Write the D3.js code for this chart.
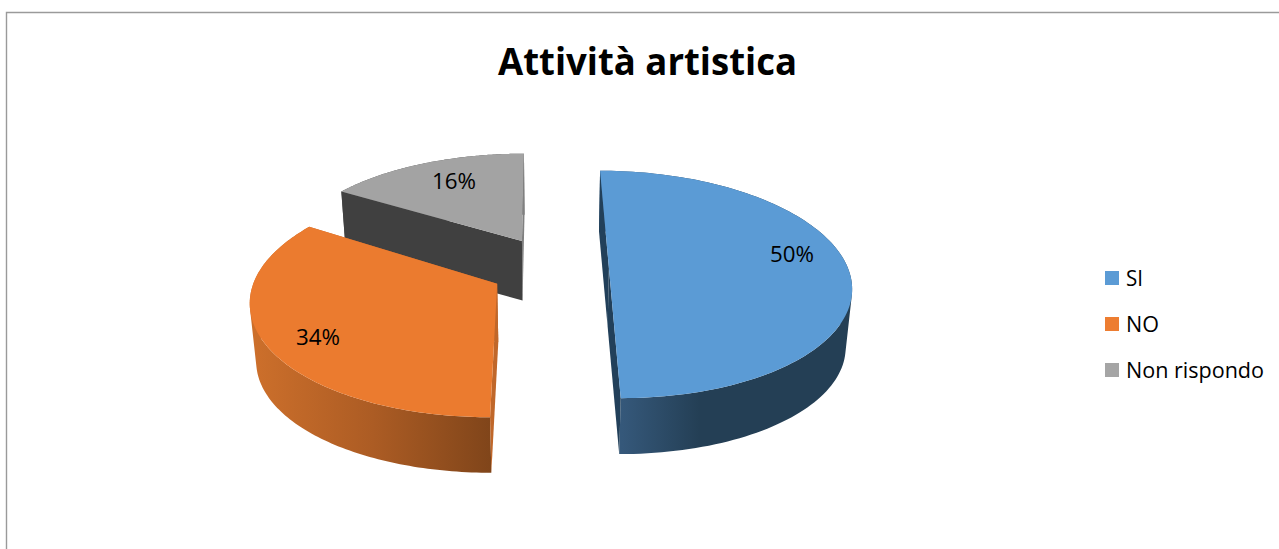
<!DOCTYPE html>
<html>
<head>
<meta charset="utf-8">
<script src="https://cdn.jsdelivr.net/npm/d3@7/dist/d3.min.js"></script>
<style>
html,body{margin:0;padding:0;background:#fff;overflow:hidden}
svg{display:block}
text{font-family:"Open Sans","Noto Sans",sans-serif;fill:#000}
</style>
</head>
<body>
<svg id="c" width="1279" height="549"></svg>
<script>
const title = "Attività artistica";
const categories = ["SI", "NO", "Non rispondo"];
const values = [50, 34, 16];
const topColors = ["#5B9BD5", "#EB7B2F", "#A3A3A3"];
const legendColors = ["#5B9BD5", "#ED7D31", "#A5A5A5"];

// layout of the perspective projection of the exploded pie
const W = 1279, H = 549;
const vanish = {x: 539, y: -502};          // vanishing point of the pie plane
const t0 = 770, depthStep = 0.000185;      // perspective foreshortening
const radiusX = 239, originU = 0.0452;
const explodeU = 0.2473, explodeV = 0.29;
const rimScaleV = [1.015, 1, 0.97];
const drop = {x: 550, y: 3000, f: 0.0215}; // extrusion: homothety toward this point
const labelAt = [[792, 254], [318, 337], [454, 181]];
const labelFmt = d3.format(".0%");

const svg = d3.select("#c");
const defs = svg.append("defs");

function project(u, v) {
  const t = 1 / (1 / t0 - depthStep * v);
  return [vanish.x + radiusX * (u + originU) * t / t0, vanish.y + t];
}
const lower = p => [p[0] + (drop.x - p[0]) * drop.f, p[1] + (drop.y - p[1]) * drop.f];
const path = d3.line();

function gradient(id, x1, x2, stops) {
  const g = defs.append("linearGradient").attr("id", id)
    .attr("gradientUnits", "userSpaceOnUse")
    .attr("x1", x1).attr("x2", x2).attr("y1", 0).attr("y2", 0);
  stops.forEach(s => g.append("stop").attr("offset", s[0]).attr("stop-color", s[1]));
}
gradient("wall0", 622, 850, [[0, "#35587A"], [0.34, "#243F55"], [1, "#243F55"]]);
gradient("wall1", 255, 491, [[0, "#CC6F2B"], [0.5, "#AC5C24"], [1, "#80451A"]]);
gradient("wall2", 250, 530, [[0, "#555555"], [1, "#555555"]]);

const firstWall = ["#22405A", "#C0672A", "#404040"];
const lastWall = ["#22405A", "#C0672A", "#808080"];
const pie = d3.pie().sort(null).startAngle(0).endAngle(2 * Math.PI);
const arcs = pie(values).map((a, i) => {
  const mid = (a.startAngle + a.endAngle) / 2;
  const cu = explodeU * Math.sin(mid), cv = -explodeV * Math.cos(mid);
  const apex = project(cu, cv);
  const rim = d3.range(0, 121).map(k => {
    const th = a.startAngle + (a.endAngle - a.startAngle) * k / 120;
    return project(cu + Math.sin(th), cv - rimScaleV[i] * Math.cos(th));
  });
  return {i, apex, rim};
});

// back to front
[2, 1, 0].forEach(i => {
  const s = arcs[i], g = svg.append("g");
  const rim = s.rim, first = rim[0], last = rim[rim.length - 1];
  // outer wall: all facets in one path, same winding, so the union has no seams
  const facets = d3.pairs(rim).map(d => {
    const q = [d[0], d[1], lower(d[1]), lower(d[0])];
    return path(d3.polygonArea(q) < 0 ? q.reverse() : q) + "Z";
  }).join("");
  g.append("path").attr("d", facets).attr("fill-rule", "nonzero")
    .attr("fill", `url(#wall${i})`);
  // radial walls
  [[last, lastWall[i]], [first, firstWall[i]]].forEach(([p, col]) => {
    g.append("path")
      .attr("d", path([s.apex, p, lower(p), lower(s.apex)]) + "Z")
      .attr("fill", col);
  });
  // top face
  g.append("path")
    .attr("d", path([s.apex].concat(rim)) + "Z")
    .attr("fill", topColors[i]);
});

// frame
svg.append("path").attr("d", path([[6.5, H], [6.5, 12.5], [W, 12.5]]))
  .attr("fill", "none").attr("stroke", "#9a9a9a").attr("stroke-width", 1.4);

// title
svg.append("text").text(title)
  .attr("x", 647.5).attr("y", 75).attr("text-anchor", "middle")
  .attr("font-size", 37).attr("font-weight", 700)
  .attr("textLength", 299).attr("lengthAdjust", "spacingAndGlyphs");

// data labels
svg.selectAll("text.pct").data(values).join("text").attr("class", "pct")
  .text(d => labelFmt(d / d3.sum(values)))
  .attr("x", (d, i) => labelAt[i][0]).attr("y", (d, i) => labelAt[i][1])
  .attr("dy", "0.36em").attr("text-anchor", "middle").attr("font-size", 21)
  .attr("textLength", 44).attr("lengthAdjust", "spacingAndGlyphs");

// legend
const legendY = d3.scalePoint().domain(categories).range([278, 370]);
const legendW = [17, 33, 138];
const lg = svg.selectAll("g.lg").data(categories).join("g").attr("class", "lg")
  .attr("transform", d => `translate(0,${legendY(d)})`);
lg.append("rect").attr("x", 1105).attr("y", -7).attr("width", 14).attr("height", 14)
  .attr("fill", (d, i) => legendColors[i]);
lg.append("text").text(d => d).attr("x", 1126).attr("y", 7.5).attr("font-size", 21)
  .attr("textLength", (d, i) => legendW[i]).attr("lengthAdjust", "spacingAndGlyphs");
</script>
</body>
</html>
